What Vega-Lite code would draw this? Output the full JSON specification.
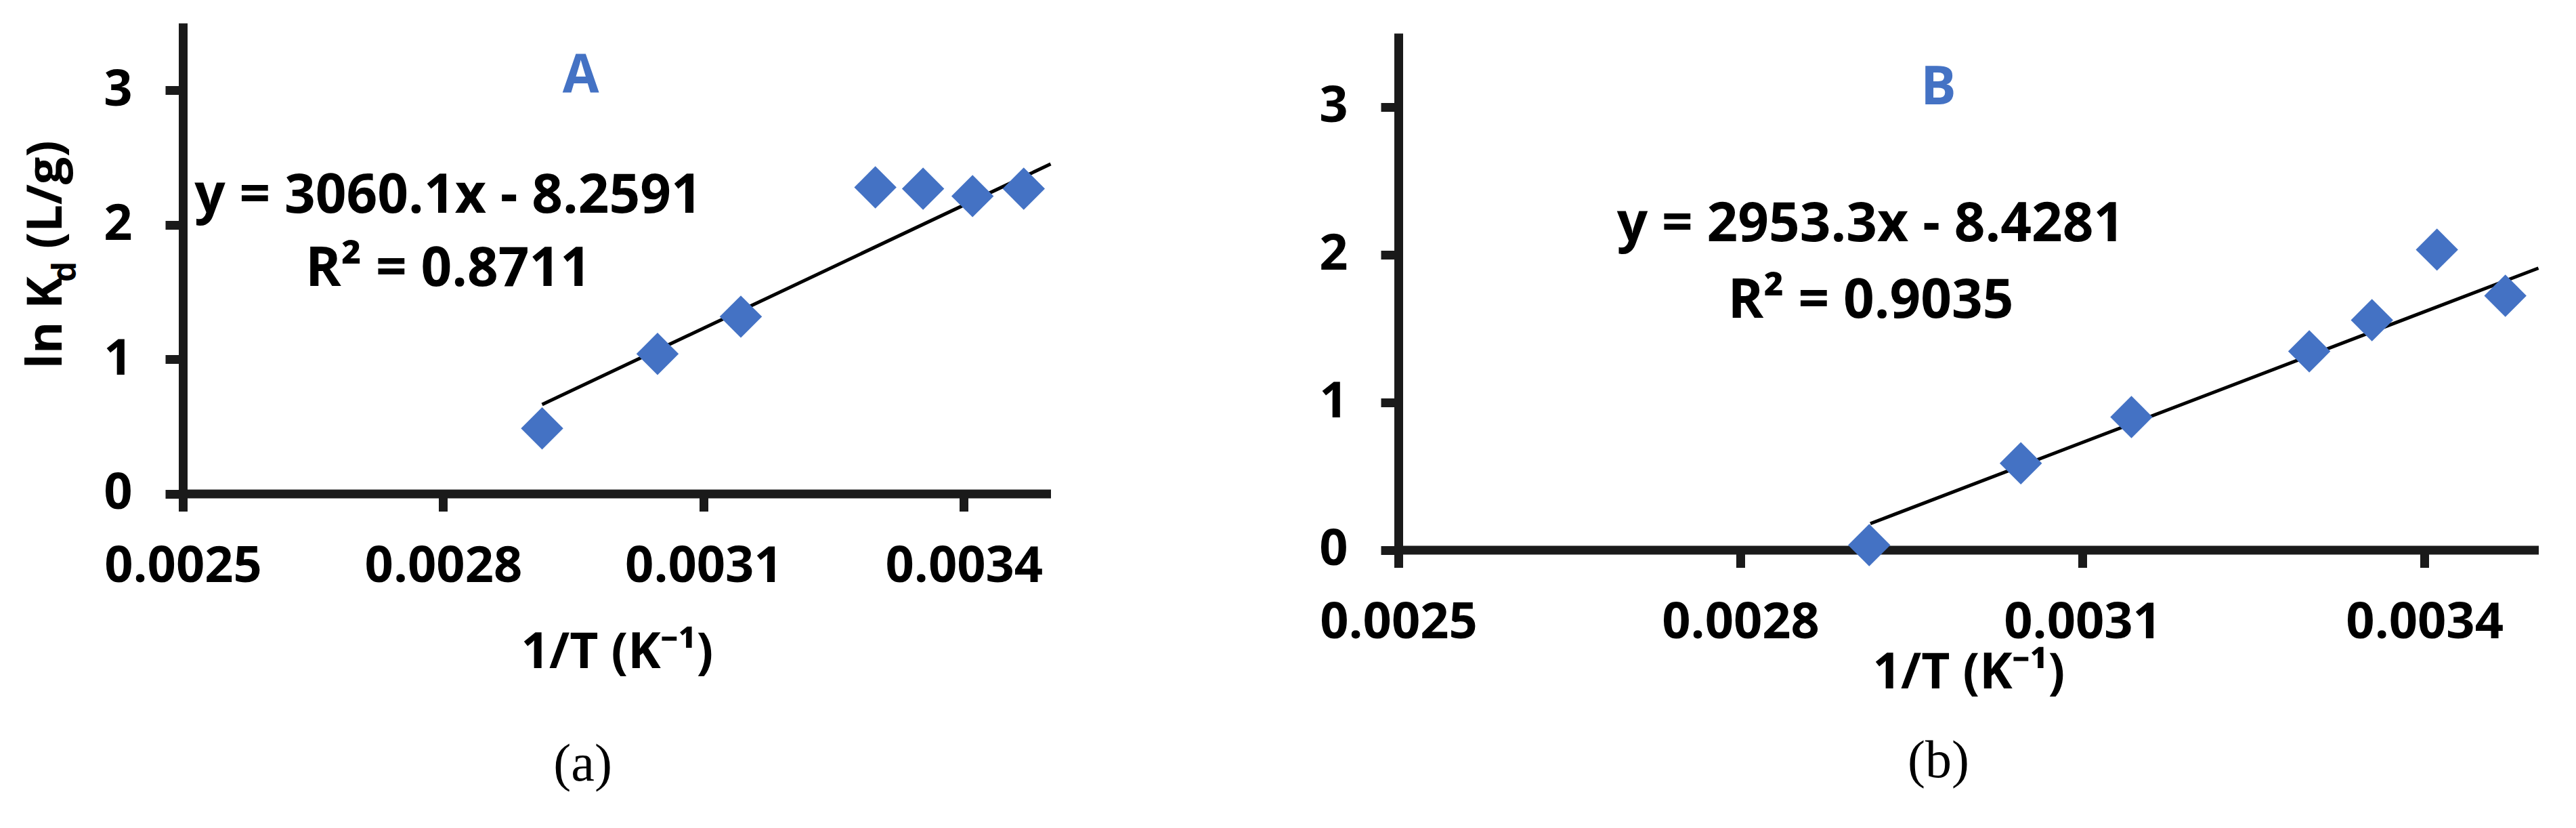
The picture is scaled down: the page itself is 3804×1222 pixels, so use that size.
{
  "$schema": "https://vega.github.io/schema/vega-lite/v6.json",
  "padding": {"left": 32, "top": 34, "right": 0, "bottom": 0},
  "background": "white",
  "bounds": "flush",
  "spacing": 513,
  "config": {
    "view": {"stroke": null},
    "font": "Open Sans",
    "axis": {
      "grid": false,
      "domainColor": "#1a1a1a",
      "domainWidth": 13,
      "tickColor": "#1a1a1a",
      "tickWidth": 13,
      "tickSize": 26,
      "labelFont": "Open Sans",
      "labelFontWeight": "bold",
      "labelFontSize": 74,
      "labelColor": "#000000",
      "labelFlush": false,
      "labelOverlap": false,
      "labelLimit": 0,
      "titleFont": "Open Sans",
      "titleFontWeight": "bold",
      "titleFontSize": 73,
      "titleColor": "#000000",
      "titleLimit": 0
    }
  },
  "hconcat": [
    {
      "width": 1281.5,
      "height": 694.5,
      "encoding": {
        "x": {"field": "x", "type": "quantitative",
              "scale": {"domain": [0.0025, 0.0035], "nice": false, "zero": false},
              "axis": {"values": [0.0025, 0.0028, 0.0031, 0.0034], "format": ".4f", "labelPadding": 46, "title": "1/T (K⁻¹)", "titlePadding": 54}},
        "y": {"field": "y", "type": "quantitative",
              "scale": {"domain": [0, 3.5], "nice": false, "zero": false},
              "axis": {"values": [0, 1, 2, 3], "format": "d", "labelPadding": 49, "title": null}}
      },
      "layer": [
        {
          "data": {"values": [{"x": 0.002914, "y": 0.6626}, {"x": 0.0035, "y": 2.4513}]},
          "mark": {"type": "line", "color": "#000000", "strokeWidth": 5, "clip": false}
        },
        {
          "data": {"values": [
            {"x": 0.002914, "y": 0.485},
            {"x": 0.003047, "y": 1.039},
            {"x": 0.003143, "y": 1.316},
            {"x": 0.003298, "y": 2.278},
            {"x": 0.003353, "y": 2.268},
            {"x": 0.003410, "y": 2.213},
            {"x": 0.003469, "y": 2.268}
          ]},
          "mark": {"type": "point", "shape": "diamond", "filled": true, "color": "#4472C4", "opacity": 1, "size": 3900}
        },
        {
          "data": {"values": [{"x": 0.0029586, "y": 2.985, "label": "A"}]},
          "mark": {"type": "text", "color": "#4472C4", "font": "Open Sans", "fontWeight": "bold", "fontSize": 78, "align": "center", "baseline": "alphabetic"},
          "encoding": {"text": {"field": "label"}}
        },
        {
          "data": {"values": [
            {"x": 0.0028059, "y": 2.088, "label": "y = 3060.1x - 8.2591"},
            {"x": 0.0028059, "y": 1.544, "label": "R² = 0.8711"}
          ]},
          "mark": {"type": "text", "color": "#000000", "font": "Open Sans", "fontWeight": "bold", "fontSize": 80, "align": "center", "baseline": "alphabetic"},
          "encoding": {"text": {"field": "label"}}
        },
        {
          "data": {"values": [
            {"x": 0.0023601, "y": 0.9295, "label": "ln K"},
            {"x": 0.0023601, "y": 1.821, "label": "(L/g)"}
          ]},
          "mark": {"type": "text", "color": "#000000", "font": "Open Sans", "fontWeight": "bold", "fontSize": 72, "align": "left", "baseline": "alphabetic", "angle": -90},
          "encoding": {"text": {"field": "label"}}
        },
        {
          "data": {"values": [{"x": 0.0023765, "y": 1.574, "label": "d"}]},
          "mark": {"type": "text", "color": "#000000", "font": "Open Sans", "fontWeight": "bold", "fontSize": 48, "align": "left", "baseline": "alphabetic", "angle": -90},
          "encoding": {"text": {"field": "label"}}
        },
        {
          "data": {"values": [{"x": 0.0029609, "y": -2.133, "label": "(a)"}]},
          "mark": {"type": "text", "color": "#000000", "font": "Liberation Serif", "fontSize": 78, "align": "center", "baseline": "alphabetic"},
          "encoding": {"text": {"field": "label"}}
        }
      ]
    },
    {
      "width": 1683.5,
      "height": 777.5,
      "encoding": {
        "x": {"field": "x", "type": "quantitative",
              "scale": {"domain": [0.0025, 0.0035], "nice": false, "zero": false},
              "axis": {"values": [0.0025, 0.0028, 0.0031, 0.0034], "format": ".4f", "labelPadding": 46, "title": "1/T (K⁻¹)", "titlePadding": 1}},
        "y": {"field": "y", "type": "quantitative",
              "scale": {"domain": [0, 3.5], "range": [777.5, 15], "nice": false, "zero": false},
              "axis": {"values": [0, 1, 2, 3], "format": "d", "labelPadding": 49, "title": null}}
      },
      "layer": [
        {
          "data": {"values": [{"x": 0.002914, "y": 0.1778}, {"x": 0.0035, "y": 1.9085}]},
          "mark": {"type": "line", "color": "#000000", "strokeWidth": 5, "clip": false}
        },
        {
          "data": {"values": [
            {"x": 0.002913, "y": 0.032},
            {"x": 0.003046, "y": 0.586},
            {"x": 0.003143, "y": 0.900},
            {"x": 0.003299, "y": 1.345},
            {"x": 0.003354, "y": 1.556},
            {"x": 0.003411, "y": 2.034},
            {"x": 0.003471, "y": 1.721}
          ]},
          "mark": {"type": "point", "shape": "diamond", "filled": true, "color": "#4472C4", "opacity": 1, "size": 3900}
        },
        {
          "data": {"values": [{"x": 0.0029737, "y": 3.016, "label": "B"}]},
          "mark": {"type": "text", "color": "#4472C4", "font": "Open Sans", "fontWeight": "bold", "fontSize": 78, "align": "center", "baseline": "alphabetic"},
          "encoding": {"text": {"field": "label"}}
        },
        {
          "data": {"values": [
            {"x": 0.0029143, "y": 2.089, "label": "y = 2953.3x - 8.4281"},
            {"x": 0.0029143, "y": 1.571, "label": "R² = 0.9035"}
          ]},
          "mark": {"type": "text", "color": "#000000", "font": "Open Sans", "fontWeight": "bold", "fontSize": 80, "align": "center", "baseline": "alphabetic"},
          "encoding": {"text": {"field": "label"}}
        },
        {
          "data": {"values": [{"x": 0.0029737, "y": -1.539, "label": "(b)"}]},
          "mark": {"type": "text", "color": "#000000", "font": "Liberation Serif", "fontSize": 78, "align": "center", "baseline": "alphabetic"},
          "encoding": {"text": {"field": "label"}}
        }
      ]
    }
  ]
}
